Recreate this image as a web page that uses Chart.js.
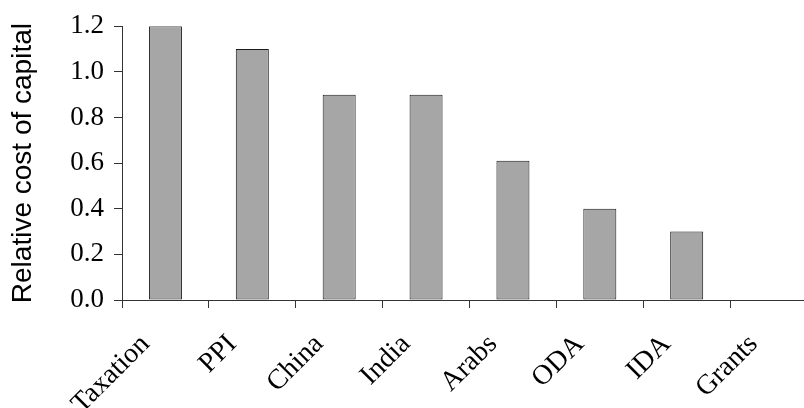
<!DOCTYPE html>
<html>
<head>
<meta charset="utf-8">
<script src="https://cdn.jsdelivr.net/npm/chart.js@4/dist/chart.umd.min.js"></script>
<style>
  html, body { margin: 0; padding: 0; background: #fff; overflow: hidden; }
  #wrap { width: 818px; height: 408px; }
</style>
</head>
<body>
<div id="wrap"><canvas id="costChart"></canvas></div>
<script>
const categories = ['Taxation', 'PPI', 'China', 'India', 'Arabs', 'ODA', 'IDA', 'Grants'];
const costValues = [1.2, 1.1, 0.9, 0.9, 0.61, 0.4, 0.3, 0];
const yTicks = [0, 0.2, 0.4, 0.6, 0.8, 1.0, 1.2];

const ctx = document.getElementById('costChart').getContext('2d');
const chart = new Chart(ctx, {
  type: 'bar',
  data: {
    labels: categories,
    datasets: [{
      label: 'Relative cost of capital',
      data: costValues,
      backgroundColor: '#a6a6a6',
      borderColor: '#1a1a1a',
      borderWidth: 1,
      borderSkipped: false,
      barPercentage: 0.38,
      categoryPercentage: 1
    }]
  },
  options: {
    responsive: true,
    maintainAspectRatio: false,
    animation: false,
    layout: { padding: { top: 25, right: 1, left: 0, bottom: 0 } },
    plugins: { legend: { display: false }, tooltip: { enabled: false } },
    scales: {
      x: {
        grid: { offset: true, drawOnChartArea: false, tickLength: 8, color: '#333' },
        border: { color: '#333', width: 1 },
        ticks: {
          color: '#000',
          maxRotation: 45,
          minRotation: 45,
          padding: 20,
          labelOffset: -20,
          font: { family: 'Liberation Serif', size: 28 }
        },
        afterFit: s => { s.height = 108; }
      },
      y: {
        min: 0,
        max: 1.2,
        afterBuildTicks: s => { s.ticks = yTicks.map(v => ({ value: v })); },
        grid: { drawOnChartArea: false, tickLength: 8, color: '#333' },
        border: { color: '#333', width: 1 },
        ticks: {
          color: '#000',
          padding: 10,
          font: { family: 'Liberation Serif', size: 27 },
          callback: v => Number(v).toFixed(1)
        },
        title: {
          display: true,
          text: 'Relative cost of capital',
          color: '#000',
          font: { family: 'Liberation Sans', size: 28 },
          padding: { top: 6, bottom: 0 }
        },
        afterFit: s => { s.width = 122; }
      }
    }
  }
});
</script>
</body>
</html>
